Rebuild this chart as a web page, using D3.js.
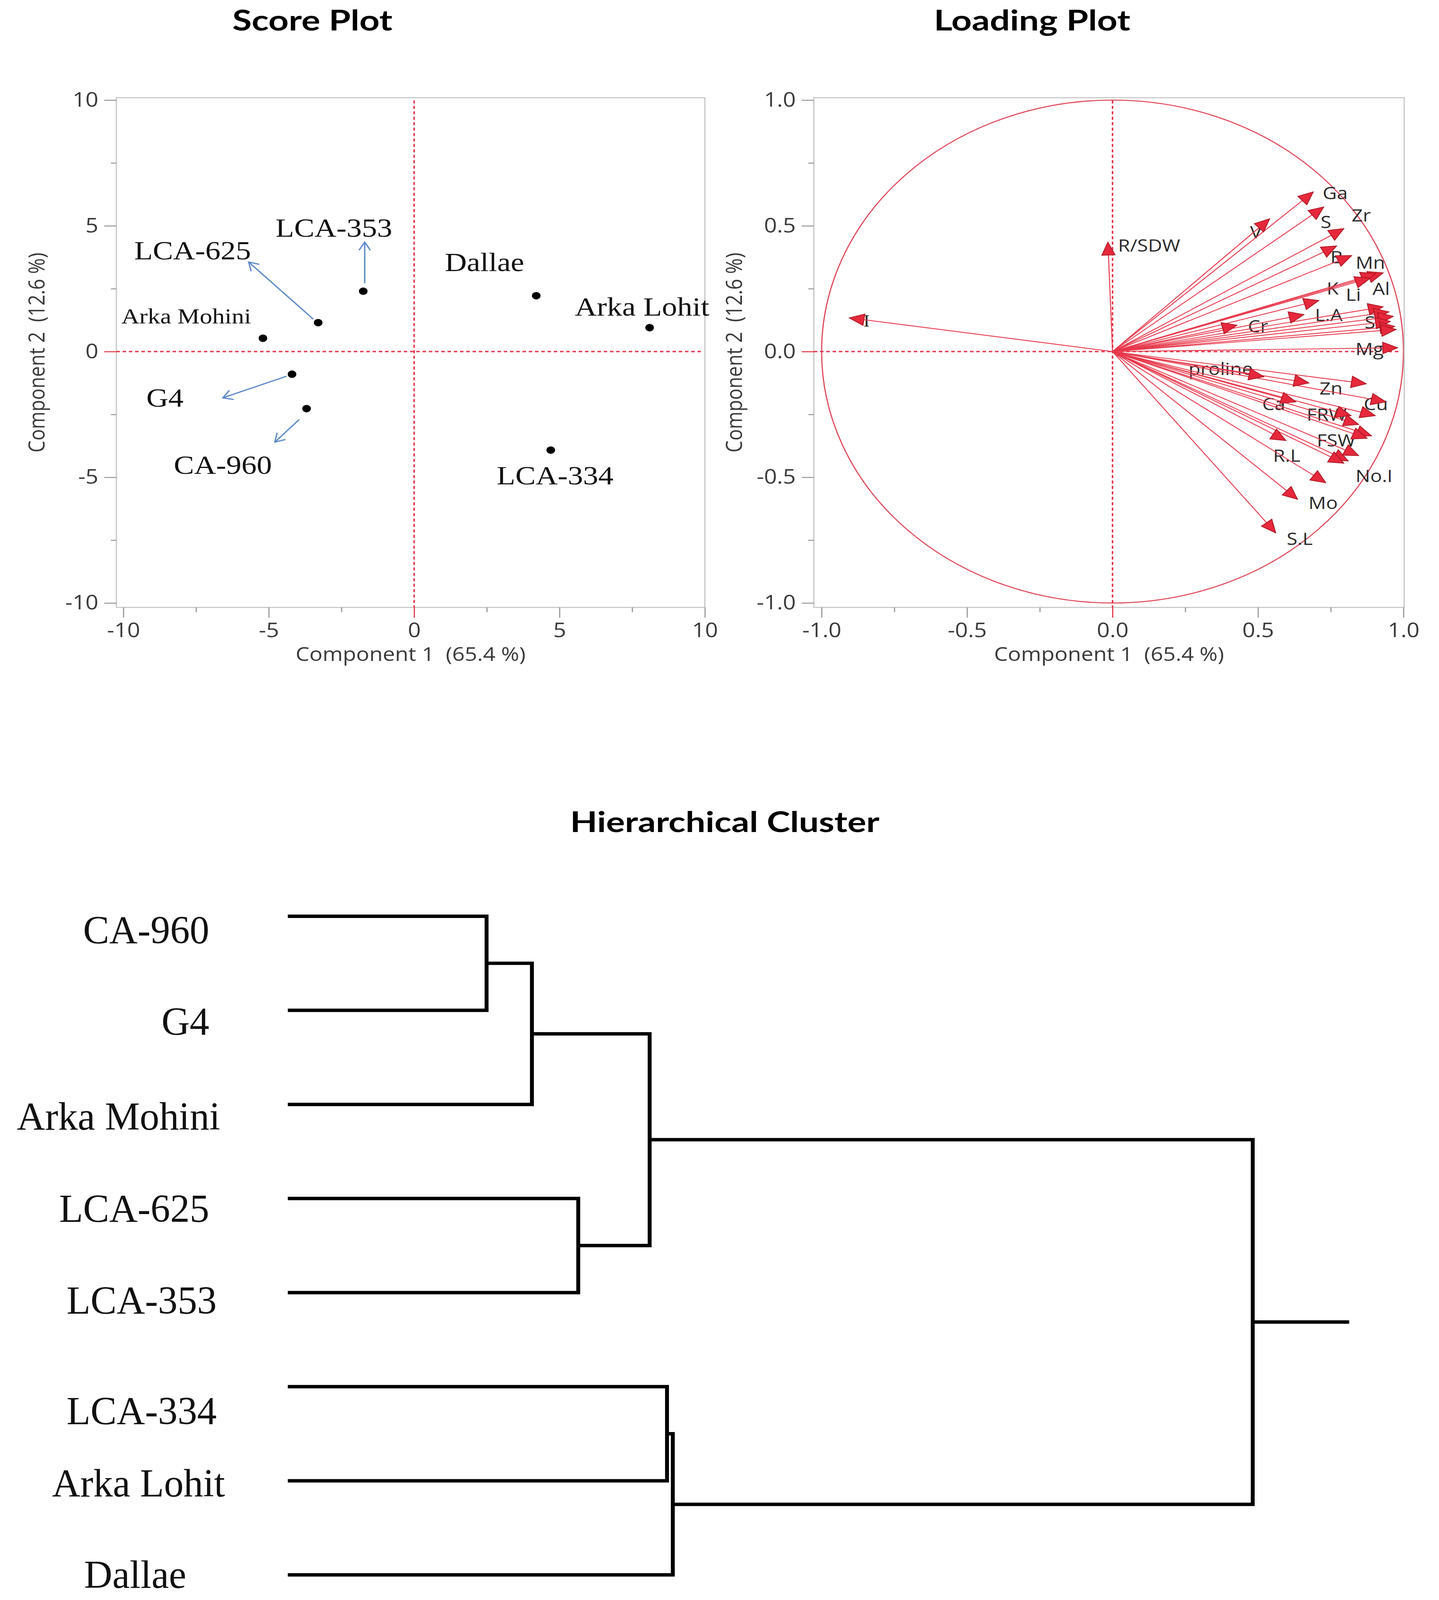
<!DOCTYPE html>
<html>
<head>
<meta charset="utf-8">
<script src="https://cdn.jsdelivr.net/npm/d3@7"></script>
<style>
  html, body { margin: 0; padding: 0; background: #fff; overflow: hidden; }
  svg { display: block; }
</style>
</head>
<body>
<svg id="chart"></svg>
<script>
// ---- score plot data ----
const genotypes = ["Arka Mohini", "LCA-625", "LCA-353", "G4", "CA-960", "Dallae", "Arka Lohit", "LCA-334"];
const comp1 = [-5.2, -3.3, -1.75, -4.2, -3.7, 4.2, 8.1, 4.7];
const comp2 = [0.53, 1.15, 2.4, -0.9, -2.27, 2.22, 0.95, -3.92];
const scoreTicks = [-10, -5, 0, 5, 10];
const scoreMinor = [-7.5, -2.5, 2.5, 7.5];

// ---- loading plot data ----
const loadNames = ["I", "R/SDW", "Ga", "S", "V", "Zr", "B", "Mn", "Al", "", "Li", "K", "L.A", "Cr",
  "", "", "", "Sr", "", "", "Mg", "proline", "Zn", "", "Ca", "Cu", "", "FRW", "", "FSW", "",
  "R.L", "No.I", "", "", "", "Mo", "S.L"];
const loadX = [-0.905, -0.016, 0.69, 0.726, 0.54, 0.795, 0.77, 0.822, 0.93, 0.905, 0.885, 0.709, 0.658, 0.428,
  0.93, 0.95, 0.965, 0.955, 0.97, 0.975, 0.98, 0.52, 0.675, 0.872, 0.63, 0.94, 0.903, 0.82, 0.846, 0.89, 0.875,
  0.596, 0.846, 0.81, 0.795, 0.733, 0.636, 0.561];
const loadY = [0.134, 0.435, 0.635, 0.575, 0.528, 0.489, 0.42, 0.382, 0.313, 0.31, 0.292, 0.203, 0.147, 0.105,
  0.178, 0.158, 0.14, 0.12, 0.1, 0.088, 0.015, -0.1, -0.125, -0.128, -0.2, -0.2, -0.255, -0.255, -0.29, -0.335, -0.345,
  -0.354, -0.414, -0.435, -0.444, -0.522, -0.588, -0.721];
const loadTicks = [-1, -0.5, 0, 0.5, 1];
const loadMinor = [-0.75, -0.25, 0.25, 0.75];

// ---- dendrogram data ----
const leafOrder = ["CA-960", "G4", "Arka Mohini", "LCA-625", "LCA-353", "LCA-334", "Arka Lohit", "Dallae"];
const mergeA = ["CA-960", "n0", "LCA-625", "n1", "LCA-334", "n4", "n3"];
const mergeB = ["G4", "Arka Mohini", "LCA-353", "n2", "Arka Lohit", "Dallae", "n5"];
const mergeHeight = [2.06, 2.53, 3.01, 3.75, 3.93, 3.99, 10.0];

// ---- layout ----
const W = 3685, H = 4715;
const RED = "#e4384c";
const AXIS = "#9a9a9a";
const TXT = "#3a3a3a";
const SANS = "'Open Sans', 'Noto Sans', sans-serif";
const SERIF = "'Liberation Serif', 'Times New Roman', serif";

// the drawing is laid out at 3685x4715 and fitted into whatever viewport we get
const svg = d3.select("#chart")
  .attr("viewBox", `0 0 ${W} ${H}`)
  .attr("preserveAspectRatio", "none")
  .attr("width", window.innerWidth || W)
  .attr("height", window.innerHeight || H);
svg.append("rect").attr("width", W).attr("height", H).attr("fill", "#fff");

function title(txt, cx, y, len) {
  svg.append("text").attr("x", cx).attr("y", y)
    .attr("text-anchor", "middle")
    .attr("font-family", "Lato, 'Open Sans', sans-serif")
    .attr("font-weight", 700).attr("font-size", 84)
    .attr("textLength", len).attr("lengthAdjust", "spacingAndGlyphs")
    .attr("fill", "#000").text(txt);
}

function drawFrame(frame, x, y, majorX, majorY, minorX, minorY, fmt) {
  const g = svg.append("g");
  g.append("rect")
    .attr("x", frame.left).attr("y", frame.top)
    .attr("width", frame.right - frame.left).attr("height", frame.bottom - frame.top)
    .attr("fill", "none").attr("stroke", "#c4c4c4").attr("stroke-width", 3);

  const ax = g.append("g").attr("transform", `translate(0,${frame.bottom})`)
    .call(d3.axisBottom(x).tickValues(majorX).tickSize(30).tickPadding(16).tickFormat(fmt));
  const ax2 = g.append("g").attr("transform", `translate(0,${frame.bottom})`)
    .call(d3.axisBottom(x).tickValues(minorX).tickSize(14).tickFormat(""));
  const ay = g.append("g").attr("transform", `translate(${frame.left},0)`)
    .call(d3.axisLeft(y).tickValues(majorY).tickSize(31).tickPadding(15).tickFormat(fmt));
  const ay2 = g.append("g").attr("transform", `translate(${frame.left},0)`)
    .call(d3.axisLeft(y).tickValues(minorY).tickSize(14).tickFormat(""));

  [ax, ax2, ay, ay2].forEach(a => {
    a.select(".domain").remove();
    a.selectAll("line").attr("stroke", AXIS).attr("stroke-width", 3);
    a.selectAll("text").attr("font-family", SANS).attr("font-size", 58).attr("fill", TXT);
  });
  ax.selectAll(".tick").filter(d => d === 0).select("line").attr("stroke", RED);
  ay.selectAll(".tick").filter(d => d === 0).select("line").attr("stroke", RED);

  // zero reference lines
  g.append("line").attr("x1", x(0)).attr("x2", x(0)).attr("y1", frame.top + 8).attr("y2", frame.bottom)
    .attr("stroke", RED).attr("stroke-width", 4).attr("stroke-dasharray", "9,7");
  g.append("line").attr("x1", frame.left).attr("x2", frame.right - 8).attr("y1", y(0)).attr("y2", y(0))
    .attr("stroke", RED).attr("stroke-width", 4).attr("stroke-dasharray", "9,7");

  // axis titles
  g.append("text").attr("x", (frame.left + frame.right) / 2).attr("y", frame.bottom + 158)
    .attr("text-anchor", "middle").style("white-space", "pre")
    .attr("font-family", SANS).attr("font-size", 56).attr("fill", TXT)
    .text("Component 1  (65.4 %)");
  g.append("text")
    .attr("transform", `translate(${frame.left - 184},${(frame.top + frame.bottom) / 2}) rotate(-90)`)
    .attr("text-anchor", "middle").style("white-space", "pre")
    .attr("font-family", SANS).attr("font-size", 56).attr("fill", TXT)
    .text("Component 2  (12.6 %)");
  return g;
}

// ================= Score Plot =================
title("Score Plot", 800, 90, 410);
const sFrame = {left: 298, top: 288, right: 1805, bottom: 1790};
const sx = d3.scaleLinear().domain([-10, 10]).range([316, 1805]);
const sy = d3.scaleLinear().domain([-10, 10]).range([1777, 295]);
const sg = drawFrame(sFrame, sx, sy, scoreTicks, scoreTicks, scoreMinor, scoreMinor, d => String(d));

const scoreLabelAt = {
  "LCA-353": [-2.76, 4.56], "LCA-625": [-7.62, 3.67], "Arka Mohini": [-7.84, 1.12],
  "G4": [-8.57, -2.19], "CA-960": [-6.58, -4.86], "Dallae": [2.42, 3.2],
  "Arka Lohit": [7.84, 1.43], "LCA-334": [4.85, -5.28]
};
const scorePointers = {
  "LCA-625": [-3.47, 1.29, -5.69, 3.56], "LCA-353": [-1.70, 2.72, -1.70, 4.35],
  "G4": [-4.39, -0.98, -6.58, -1.84], "CA-960": [-3.95, -2.70, -4.79, -3.6]
};

const scoreData = genotypes.map((g, i) => ({name: g, x: comp1[i], y: comp2[i]}));

sg.selectAll("circle.pt").data(scoreData).join("circle").attr("class", "pt")
  .attr("cx", d => sx(d.x)).attr("cy", d => sy(d.y)).attr("r", 11).attr("fill", "#000");

sg.selectAll("text.lbl").data(scoreData).join("text").attr("class", "lbl")
  .attr("x", d => sx(scoreLabelAt[d.name][0])).attr("y", d => sy(scoreLabelAt[d.name][1]))
  .attr("text-anchor", "middle")
  .attr("font-family", SERIF)
  .attr("font-size", d => d.name === "Arka Mohini" ? 64 : 78)
  .attr("fill", "#111").text(d => d.name);

const BLUE = "#5b8ac6";
Object.values(scorePointers).forEach(p => {
  const x1 = sx(p[0]), y1 = sy(p[1]), x2 = sx(p[2]), y2 = sy(p[3]);
  const a = Math.atan2(y2 - y1, x2 - x1), L = 28, w = 0.55;
  sg.append("line").attr("x1", x1).attr("y1", y1).attr("x2", x2).attr("y2", y2)
    .attr("stroke", BLUE).attr("stroke-width", 3.5);
  sg.append("path")
    .attr("d", `M${x2 - L * Math.cos(a - w)},${y2 - L * Math.sin(a - w)}L${x2},${y2}L${x2 - L * Math.cos(a + w)},${y2 - L * Math.sin(a + w)}`)
    .attr("fill", "none").attr("stroke", BLUE).attr("stroke-width", 3.5);
});

// ================= Loading Plot =================
title("Loading Plot", 2643, 90, 503);
const lFrame = {left: 2084, top: 288, right: 3596, bottom: 1790};
const lx = d3.scaleLinear().domain([-1, 1]).range([2104, 3594]);
const ly = d3.scaleLinear().domain([-1, 1]).range([1777, 295]);

// circle first so the reference lines sit on top
svg.append("ellipse").attr("cx", lx(0)).attr("cy", ly(0))
  .attr("rx", lx(1) - lx(0)).attr("ry", ly(0) - ly(1))
  .attr("fill", "none").attr("stroke", "#e0485a").attr("stroke-width", 3);
const lg = drawFrame(lFrame, lx, ly, loadTicks, loadTicks, loadMinor, loadMinor, d => d.toFixed(1));

const loadData = loadNames.map((n, i) => ({name: n, x: loadX[i], y: loadY[i]}));

// label offsets from arrow tip: [dx to text start, dy to text middle]
const loadLabelOff = {
  "I": [36, 8], "R/SDW": [26, 10], "Ga": [24, 4], "S": [-8, 45], "V": [-50, 40], "Zr": [20, -38],
  "B": [-16, 33], "Mn": [10, 22], "Al": [-27, 47], "Li": [-62, 49], "K": [20, -35], "L.A": [28, 2],
  "Cr": [28, 4], "Sr": [-66, 4], "Mg": [-108, 4], "proline": [-193, -23], "Zn": [27, 17],
  "Ca": [-86, 7], "Cu": [-57, 7], "FRW": [-114, -3], "FSW": [-140, 14], "R.L": [-33, 45],
  "No.I": [-8, 60], "Mo": [28, 11], "S.L": [28, 18]
};

lg.selectAll("text.ll").data(loadData.filter(d => d.name !== "")).join("text").attr("class", "ll")
  .attr("transform", d => {
    const o = loadLabelOff[d.name];
    return `translate(${lx(d.x) + o[0]},${ly(d.y) + o[1]})`;
  })
  .attr("dy", "0.35em")
  .attr("font-family", d => d.name === "I" ? SERIF : SANS).attr("font-size", 50)
  .attr("fill", "#2a2a2a").text(d => d.name);

lg.selectAll("line.vec").data(loadData).join("line").attr("class", "vec")
  .attr("x1", lx(0)).attr("y1", ly(0))
  .attr("x2", d => lx(d.x)).attr("y2", d => ly(d.y))
  .attr("stroke", "#e8384c").attr("stroke-width", 2.5);

lg.selectAll("path.head").data(loadData).join("path").attr("class", "head")
  .attr("d", d => {
    const x2 = lx(d.x), y2 = ly(d.y);
    const a = Math.atan2(y2 - ly(0), x2 - lx(0)), L = 38, Wd = 17;
    const bx = x2 - L * Math.cos(a), by = y2 - L * Math.sin(a);
    const px = -Math.sin(a) * Wd, py = Math.cos(a) * Wd;
    return `M${x2},${y2}L${bx + px},${by + py}L${bx - px},${by - py}Z`;
  })
  .attr("fill", "#e6283c").attr("stroke", "#a8141f").attr("stroke-width", 2);

// ================= Hierarchical Cluster =================
title("Hierarchical Cluster", 1856, 2452, 792);

const nodes = {};
leafOrder.forEach(n => { nodes[n] = {name: n, height: 0}; });
mergeHeight.forEach((h, i) => {
  nodes["n" + i] = {name: "n" + i, height: h, children: [nodes[mergeA[i]], nodes[mergeB[i]]]};
});
const root = d3.hierarchy(nodes["n" + (mergeHeight.length - 1)]);

const dx = d3.scaleLinear().domain([0, 10]).range([737, 3208]);
const leafY = d3.scalePoint().domain(leafOrder).range([2700, 4641]);
const rootStub = 1.0;

root.eachAfter(n => {
  n.px = dx(n.data.height);
  n.py = n.children ? (n.children[0].py + n.children[1].py) / 2 : leafY(n.data.name);
});

const dg = svg.append("g");
dg.selectAll("path.link").data(root.descendants().filter(n => n.children)).join("path").attr("class", "link")
  .attr("d", n => {
    const [c0, c1] = n.children;
    return `M${c0.px},${c0.py}H${n.px}V${c1.py}H${c1.px}`;
  })
  .attr("fill", "none").attr("stroke", "#000").attr("stroke-width", 10)
  .attr("stroke-linejoin", "miter").attr("stroke-linecap", "butt");
dg.append("path").attr("d", `M${root.px},${root.py}H${dx(mergeHeight[mergeHeight.length - 1] + rootStub)}`)
  .attr("stroke", "#000").attr("stroke-width", 10);

// leaf label placement: [right edge x, baseline offset from branch]
const leafLabelPos = {
  "CA-960": [536, 80], "G4": [536, 72], "Arka Mohini": [564, 74], "LCA-625": [536, 69],
  "LCA-353": [555, 62], "LCA-334": [555, 110], "Arka Lohit": [576, 46], "Dallae": [477, 38]
};
dg.selectAll("text.leaf").data(root.leaves()).join("text").attr("class", "leaf")
  .attr("transform", n => `translate(${leafLabelPos[n.data.name][0]},${n.py + leafLabelPos[n.data.name][1]}) scale(0.85,1)`)
  .attr("text-anchor", "end")
  .attr("font-family", SERIF)
  .attr("font-size", 118).attr("fill", "#111")
  .text(n => n.data.name);
</script>
</body>
</html>
